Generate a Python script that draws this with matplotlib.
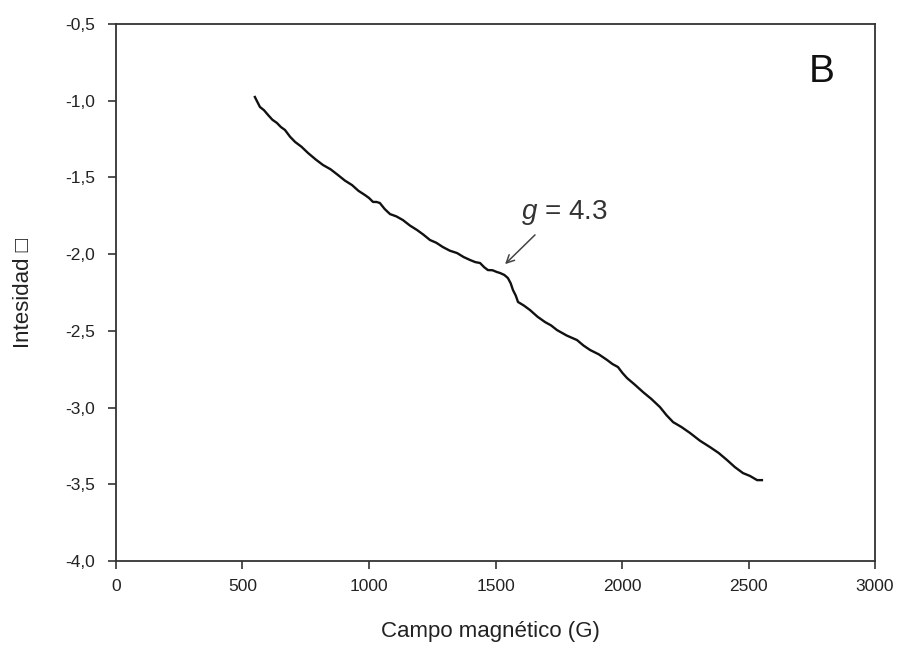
import matplotlib
matplotlib.use("Agg")
import matplotlib.pyplot as plt

plt.rcParams['font.family'] = ['Liberation Sans', 'DejaVu Sans']
plt.rcParams['mathtext.fontset'] = 'custom'
plt.rcParams['mathtext.it'] = 'Liberation Sans:italic'
plt.rcParams['mathtext.rm'] = 'Liberation Sans'

# EPR spectrum, panel B
campo = [549, 560, 569, 585, 601, 618, 636, 652, 668, 688, 708, 733, 759, 790,
         818, 848, 877, 905, 933, 958, 984, 1000, 1016, 1030, 1043, 1062, 1083,
         1108, 1134, 1162, 1190, 1215, 1241, 1266, 1292, 1320, 1348, 1374, 1399,
         1420, 1439, 1455, 1470, 1488, 1506, 1518, 1535, 1549, 1560, 1569, 1580,
         1589, 1612, 1636, 1666, 1696, 1720, 1743, 1782, 1822, 1848, 1874, 1908,
         1941, 1962, 1984, 2002, 2020, 2050, 2083, 2116, 2150, 2176, 2202, 2235,
         2269, 2308, 2348, 2382, 2415, 2446, 2478, 2506, 2534, 2553]
intensidad = [-0.976, -1.012, -1.041, -1.062, -1.093, -1.124, -1.145, -1.172,
              -1.191, -1.235, -1.269, -1.300, -1.341, -1.384, -1.419, -1.447,
              -1.484, -1.521, -1.550, -1.587, -1.615, -1.634, -1.660, -1.660,
              -1.667, -1.706, -1.739, -1.754, -1.778, -1.814, -1.843, -1.873,
              -1.908, -1.926, -1.954, -1.978, -1.993, -2.019, -2.038, -2.052,
              -2.058, -2.085, -2.104, -2.105, -2.117, -2.123, -2.136, -2.156,
              -2.190, -2.234, -2.270, -2.312, -2.335, -2.364, -2.408, -2.443,
              -2.465, -2.495, -2.531, -2.560, -2.596, -2.625, -2.653, -2.690,
              -2.716, -2.736, -2.775, -2.808, -2.850, -2.899, -2.944, -2.997,
              -3.050, -3.095, -3.127, -3.166, -3.216, -3.258, -3.296, -3.342,
              -3.388, -3.427, -3.446, -3.473, -3.473]

xticks = [0, 500, 1000, 1500, 2000, 2500, 3000]
yticks = [-4.0, -3.5, -3.0, -2.5, -2.0, -1.5, -1.0, -0.5]
ytick_labels = ['-4,0', '-3,5', '-3,0', '-2,5', '-2,0', '-1,5', '-1,0', '-0,5']

fig = plt.figure(figsize=(8.97, 6.46), dpi=100)
ax = fig.add_axes([0.1293, 0.1316, 0.8462, 0.8313])

ax.plot(campo, intensidad, color='#111111', lw=1.7)

ax.set_xlim(0, 3000)
ax.set_ylim(-4.0, -0.5)
ax.set_xticks(xticks)
ax.set_xticklabels([str(t) for t in xticks])
ax.set_yticks(yticks)
ax.set_yticklabels(ytick_labels)
ax.tick_params(direction='out', length=6, width=1.2, color='#333333',
               labelsize=12.5, labelcolor='#222222')
ax.tick_params(axis='x', pad=7)
ax.tick_params(axis='y', pad=9)
for s in ax.spines.values():
    s.set_linewidth(1.3)
    s.set_color('#333333')

ax.set_xlabel('Campo magnético (G)', fontsize=16, color='#222222')
ax.set_ylabel('Intesidad \u25a1', fontsize=16, color='#222222')
ax.xaxis.set_label_coords(0.493, -0.112)
ax.yaxis.set_label_coords(-0.108, 0.5)

# g = 4.3 marker
ax.annotate('', xy=(1530, -2.078), xytext=(1664, -1.862),
            arrowprops=dict(arrowstyle='->', color='#444444', lw=1.1,
                            mutation_scale=14))
ax.text(1601, -1.732, r'$\it{g}$ = 4.3', fontsize=20, color='#333333',
        va='center', ha='left')

ax.text(2790, -0.81, 'B', fontsize=28, color='#111111', ha='center', va='center')

fig.savefig('out.png', dpi=100)
